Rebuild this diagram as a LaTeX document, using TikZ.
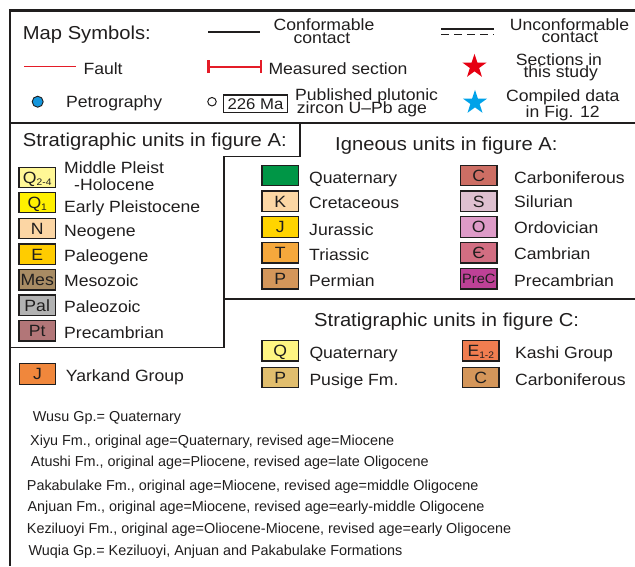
\documentclass[tikz,border=0pt]{standalone}
\usepackage{fontspec}
\usepackage{graphicx}
\setmainfont{Liberation Sans}[FakeStretch=1.08]
\newfontfamily\lgNoteFam{Liberation Sans}
\usetikzlibrary{shapes.geometric}
\definecolor{ink}{RGB}{32,30,30}
\definecolor{faultred}{RGB}{228,28,40}
\definecolor{starred}{RGB}{230,0,18}
\definecolor{starblue}{RGB}{0,162,233}
\definecolor{dotblue}{RGB}{20,150,220}
\definecolor{cQa}{RGB}{255,247,150}
\definecolor{cQb}{RGB}{255,240,0}
\definecolor{cN}{RGB}{252,214,164}
\definecolor{cE}{RGB}{255,204,0}
\definecolor{cMes}{RGB}{168,140,100}
\definecolor{cPal}{RGB}{178,178,178}
\definecolor{cPt}{RGB}{178,118,120}
\definecolor{cGreen}{RGB}{0,150,70}
\definecolor{cK}{RGB}{252,215,165}
\definecolor{cJ}{RGB}{255,212,0}
\definecolor{cT}{RGB}{245,168,60}
\definecolor{cP}{RGB}{212,150,90}
\definecolor{cC}{RGB}{205,110,100}
\definecolor{cS}{RGB}{222,192,208}
\definecolor{cO}{RGB}{222,155,200}
\definecolor{cCam}{RGB}{210,110,130}
\definecolor{cPreC}{RGB}{190,65,150}
\definecolor{cQc}{RGB}{255,245,130}
\definecolor{cPus}{RGB}{225,190,110}
\definecolor{cEk}{RGB}{240,125,80}
\definecolor{cCc}{RGB}{212,150,90}
\definecolor{cYar}{RGB}{240,135,60}
\newcommand\lgTitle{\fontsize{18.7}{20}\selectfont}
\newcommand\lgBody{\fontsize{16.3}{18}\selectfont}
\newcommand\lgNote{\lgNoteFam\fontsize{14.4}{16}\selectfont}
\newcommand\lgSub[1]{\raisebox{-2pt}{\fontsize{9.5}{10}\selectfont #1}}
\tikzset{
  lbl/.style={anchor=base west, inner sep=0pt, font=\lgBody, text=ink},
  clbl/.style={anchor=base, inner sep=0pt, font=\lgBody, text=ink},
  ttl/.style={anchor=base west, inner sep=0pt, font=\lgTitle, text=ink},
  note/.style={anchor=base west, inner sep=0pt, font=\lgNote, text=ink},
  swatch/.style={draw=ink, line width=1.2pt, minimum width=36.5pt, minimum height=20.5pt,
    inner sep=0pt, text height=11.7pt, text depth=0pt, font=\lgBody, text=ink},
  frameline/.style={draw=ink, line width=1.3pt},
  redline/.style={draw=faultred, line width=1.4pt},
  starsym/.style={star, star points=5, star point ratio=2.618, minimum size=25.5pt, inner sep=0pt},
}
\begin{document}
\begin{tikzpicture}[x=1pt, y=-1pt]
\useasboundingbox (0,0) rectangle (635,566);

% ---------- frame ----------
\draw[ink, line width=3pt] (8.8,10.5) -- (635,10.5);
\draw[ink, line width=2.5pt] (10,9) -- (10,566);
\draw[frameline] (10,123) -- (635,123);
\draw[frameline] (300,123) -- (300,156.5) -- (224,156.5) -- (224,347.5) -- (10,347.5);
\draw[frameline] (224,299) -- (635,299);

% ---------- map symbols ----------
\node[ttl] (maptitle) at (22.7,39.3) {Map Symbols:};

\coordinate (conA) at (208,32);
\coordinate (conB) at (260,32);
\draw[ink, line width=1.3pt] (conA) -- (conB);
\node[clbl] (conf1) at (324,30) {Conformable};
\node[clbl] (conf2) at (322,43.3) {contact};

\coordinate (uncA) at (441,29);
\coordinate (uncB) at (493.5,29);
\coordinate (uncC) at (441,34.7);
\coordinate (uncD) at (493.5,34.7);
\draw[ink, line width=1.3pt] (uncA) -- (uncB);
\draw[ink, line width=1.3pt, dash pattern=on 7.7pt off 5.3pt] (uncC) -- (uncD);
\node[clbl] (unc1) at (569.5,30.5) {Unconformable};
\node[clbl] (unc2) at (570,42.3) {contact};

\coordinate (fltA) at (24,66.7);
\coordinate (fltB) at (76,66.7);
\draw[redline, line width=1.3pt] (fltA) -- (fltB);
\node[lbl] (fault) at (83.3,74) {Fault};

\coordinate (msA) at (208.5,66.7);
\coordinate (msB) at (261,66.7);
\draw[redline, line width=1.8pt] (msA) -- (msB);
\draw[redline, line width=2.6pt] ([yshift=-6.5pt]msA) -- ([yshift=6.5pt]msA);
\draw[redline, line width=2.6pt] ([yshift=-6.5pt]msB) -- ([yshift=6.5pt]msB);
\node[lbl] (meas) at (268.3,74) {Measured section};

\node[starsym, fill=starred] (redstar) at (474.5,66.5) {};
\node[clbl] (sec1) at (559,65) {Sections in};
\node[clbl] (sec2) at (560.7,77.5) {this study};

\node[circle, draw=ink, line width=0.9pt, fill=dotblue, minimum size=11pt, inner sep=0pt] (petdot) at (37.7,101.7) {};
\node[lbl] (petro) at (66,107.3) {Petrography};

\node[circle, draw=ink, line width=1pt, fill=white, minimum size=8.5pt, inner sep=0pt] (agedot) at (212,101.7) {};
\node[draw=ink, line width=1.2pt, minimum width=64.5pt, minimum height=17.2pt, inner sep=0pt,
      text height=11pt, text depth=0pt, font=\fontsize{15.5}{16}\selectfont, text=ink] (agebox) at (255.5,103.5) {226 Ma};
\node[lbl] (pub1) at (295,100.7) {Published plutonic};
\node[lbl] (pub2) at (296.7,113.5) {zircon U–Pb age};

\node[starsym, fill=starblue] (bluestar) at (475,102.5) {};
\node[clbl] (comp1) at (562.8,101.7) {Compiled data};
\node[clbl] (comp2) at (562.7,117.3) {in Fig. 12};

% ---------- stratigraphic units A ----------
\node[ttl] (stratA) at (22.7,146.7) {Stratigraphic units in figure A:};
\node[swatch, fill=cQa] (sQa) at (37.2,177.5) {Q\lgSub{2-4}};
\node[swatch, fill=cQb] (sQb) at (37.2,202.5) {Q\lgSub{1}};
\node[swatch, fill=cN] (sN) at (37.2,228.5) {N};
\node[swatch, fill=cE] (sE) at (37.2,254.2) {E};
\node[swatch, fill=cMes] (sMes) at (37.2,279.8) {Mes};
\node[swatch, fill=cPal] (sPal) at (37.2,305.2) {Pal};
\node[swatch, fill=cPt] (sPt) at (37.2,330.8) {Pt};
\node[lbl] (lQa1) at (64,173.3) {Middle Pleist};
\node[lbl] (lQa2) at (74,190.7) {-Holocene};
\node[lbl] (lQb) at (64,212.7) {Early Pleistocene};
\node[lbl] (lN) at (64,236) {Neogene};
\node[lbl] (lE) at (64,261.7) {Paleogene};
\node[lbl] (lMes) at (64,286.7) {Mesozoic};
\node[lbl] (lPal) at (64,312.7) {Paleozoic};
\node[lbl] (lPt) at (64,338.3) {Precambrian};

% ---------- igneous units A ----------
\node[ttl] (ign) at (335,150) {Igneous units in figure A:};
\node[swatch, fill=cGreen] (iQ) at (280.3,175.5) {};
\node[swatch, fill=cK] (iK) at (280.3,201.2) {K};
\node[swatch, fill=cJ] (iJ) at (280.3,227) {J};
\node[swatch, fill=cT] (iT) at (280.3,252.8) {T};
\node[swatch, fill=cP] (iP) at (280.3,278.8) {P};
\node[lbl] (liQ) at (309,183.3) {Quaternary};
\node[lbl] (liK) at (309,208.3) {Cretaceous};
\node[lbl] (liJ) at (309,235) {Jurassic};
\node[lbl] (liT) at (309,260) {Triassic};
\node[lbl] (liP) at (309,286.7) {Permian};
\node[swatch, fill=cC] (iC) at (478.8,175.5) {C};
\node[swatch, fill=cS] (iS) at (478.8,201.2) {S};
\node[swatch, fill=cO] (iO) at (478.8,227) {O};
\node[swatch, fill=cCam] (iCam) at (478.8,252.8) {Є};
\node[swatch, fill=cPreC, font=\fontsize{13.5}{14}\selectfont, text height=9.7pt] (iPreC) at (478.8,278.8) {PreC};
\node[lbl] (liC) at (514,183.3) {Carboniferous};
\node[lbl] (liS) at (514,207.3) {Silurian};
\node[lbl] (liO) at (514,233.3) {Ordovician};
\node[lbl] (liCam) at (514,259.3) {Cambrian};
\node[lbl] (liPreC) at (514,286.7) {Precambrian};

% ---------- stratigraphic units C ----------
\node[ttl] (stratC) at (314,326.7) {Stratigraphic units in figure C:};
\node[swatch, fill=cQc] (cq) at (280.3,350.8) {Q};
\node[swatch, fill=cPus] (cp) at (280.3,377.5) {P};
\node[lbl] (lcq) at (309.3,358.3) {Quaternary};
\node[lbl] (lcp) at (309.3,385) {Pusige Fm.};
\node[swatch, fill=cEk] (ce) at (480.8,350.8) {E\lgSub{1-2}};
\node[swatch, fill=cCc] (cc) at (480.8,377.5) {C};
\node[lbl] (lce) at (515,358.3) {Kashi Group};
\node[lbl] (lcc) at (515,385) {Carboniferous};

% ---------- Yarkand ----------
\node[swatch, fill=cYar, minimum height=21pt] (yar) at (37.5,373.8) {J};
\node[lbl] (lyar) at (65.7,381.7) {Yarkand Group};

% ---------- notes ----------
\node[note] (n1) at (32.7,421.7) {Wusu Gp.= Quaternary};
\node[note] (n2) at (30,445) {Xiyu Fm., original age=Quaternary, revised age=Miocene};
\node[note] (n3) at (30.7,466.7) {Atushi Fm., original age=Pliocene, revised age=late Oligocene};
\node[note] (n4) at (26.7,490) {Pakabulake Fm., original age=Miocene, revised age=middle Oligocene};
\node[note] (n5) at (27.3,511.7) {Anjuan Fm., original age=Miocene, revised age=early-middle Oligocene};
\node[note] (n6) at (26.7,533.3) {Keziluoyi Fm., original age=Oliocene-Miocene, revised age=early Oligocene};
\node[note] (n7) at (28.3,555) {Wuqia Gp.= Keziluoyi, Anjuan and Pakabulake Formations};
\end{tikzpicture}
\end{document}
